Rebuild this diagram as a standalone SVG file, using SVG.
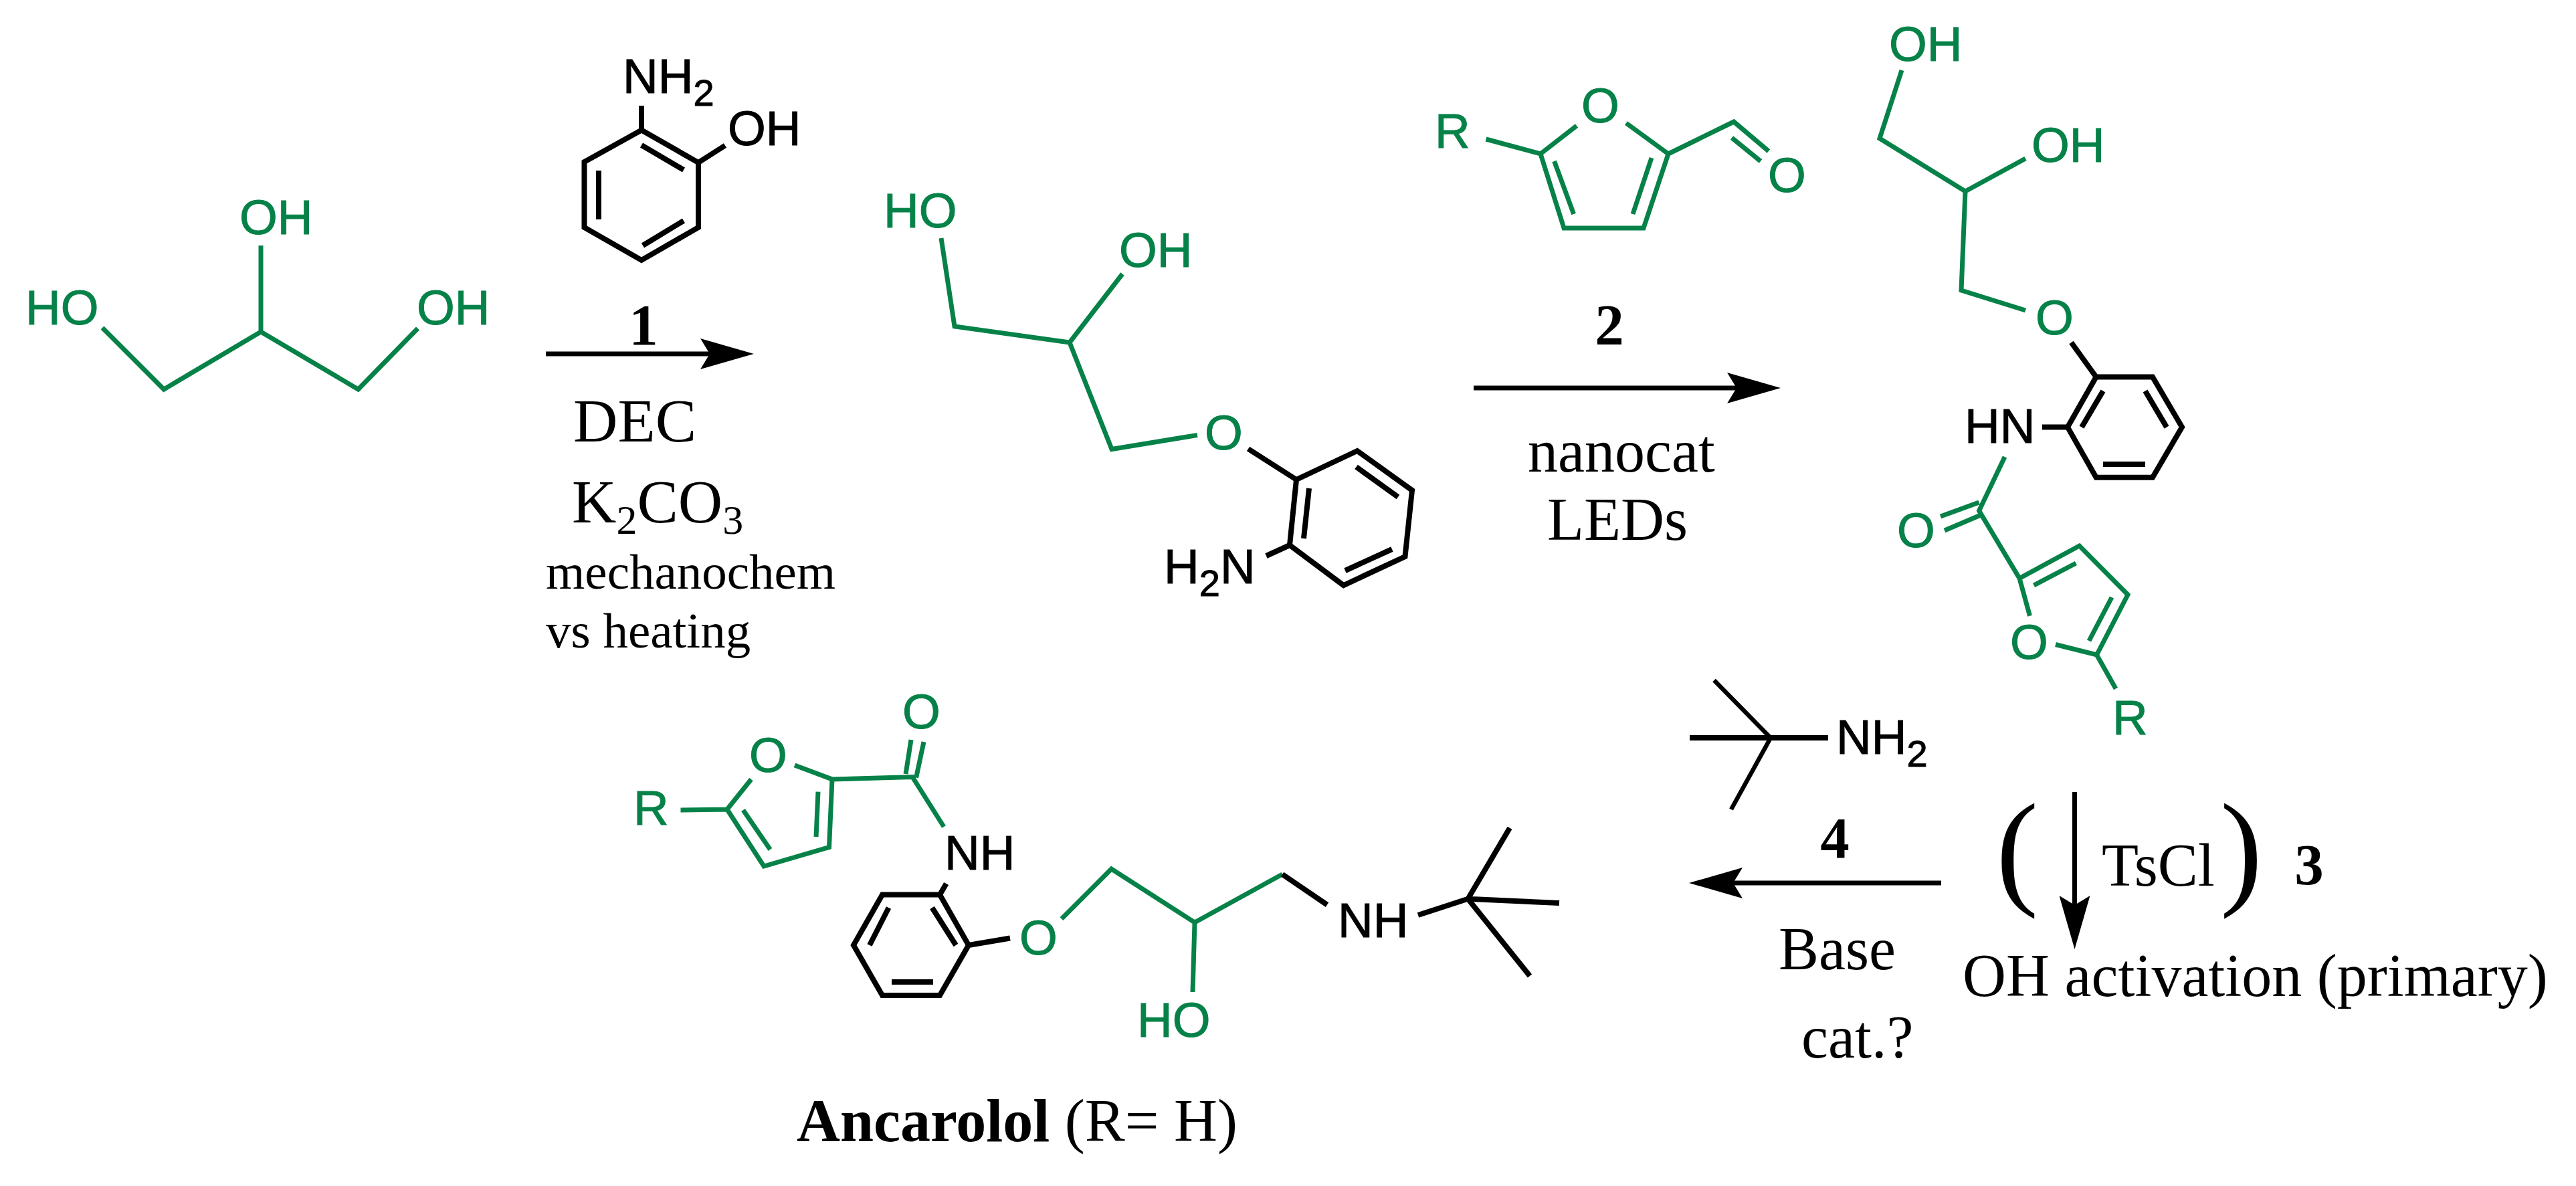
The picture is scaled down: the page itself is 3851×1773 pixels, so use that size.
<svg xmlns="http://www.w3.org/2000/svg" width="3851" height="1773" viewBox="0 0 3851 1773">
<style>
.g{fill:none;stroke:#068249;stroke-width:7;stroke-linejoin:miter}
.k{fill:none;stroke:#000;stroke-width:8;stroke-linejoin:miter}
.a{font-family:"Liberation Sans",Arial,sans-serif;font-size:73px;stroke-width:1}
.lg{fill:#068249;stroke:#068249}
.lk{fill:#000;stroke:#000}
.s{font-size:56px}
.t{font-family:"Liberation Serif","Times New Roman",serif;font-size:90px;fill:#000}
.sm{font-size:75px}
.b{font-weight:bold}
.n{font-weight:bold;font-size:87px;text-anchor:middle}
.p{font-size:190px}
.sub{font-size:62px}
.arr{stroke:#000;stroke-width:7;fill:none;marker-end:url(#head)}
</style>
<defs>
<marker id="head" markerUnits="userSpaceOnUse" viewBox="0 0 80 46" markerWidth="80" markerHeight="46" refX="14" refY="23" orient="auto"><path d="M0 0L80 23L0 46L14 23Z" fill="#000"/></marker>
</defs>
<rect width="3851" height="1773" fill="#fff"/>
<g id="glycerol">
<path class="g" d="M153 490L245 582L390 496L535.500 582L624.500 491M390 496V367"/>
<text class="a lg" x="358" y="350">OH</text>
<text class="a lg" x="38" y="485">HO</text>
<text class="a lg" x="623" y="485">OH</text>
</g>
<g id="aminophenol">
<path class="k" d="M959 194.500L1044 243V340L959 389L873.500 340V242ZM959 217L1022 254M895 255V328M961 367L1022 330M959 195V158M1044 243L1084 217.500"/>
<text class="a lk" x="931" y="139">NH<tspan class="s" dy="19">2</tspan></text>
<text class="a lk" x="1088" y="217">OH</text>
</g>
<g id="intermediate-diol">
<path class="g" d="M1407 356L1427 488L1599 512L1678 409.500M1599 512L1662 671.500L1790 650.500"/>
<path class="k" d="M1866 671L1938 717L2029 674L2111 733L2100.500 832L2008.500 875L1928 815L1938 717M1957 730L1949 805M2027.500 698L2090 743M2011 853L2081 821M1928 815L1893 831"/>
<text class="a lg" x="1321" y="340">HO</text>
<text class="a lg" x="1673" y="399">OH</text>
<text class="a lg" x="1801" y="672">O</text>
<text class="a lk" x="1740" y="872">H<tspan class="s" dy="19">2</tspan><tspan dy="-19">N</tspan></text>
</g>
<g id="furfural">
<path class="g" d="M2221.500 208L2303 230L2357 188M2431 184L2494 230L2457 341H2338L2303 230M2323.600 241L2352.600 320M2469 236L2441 320M2494 230L2592 182L2644 226M2589 206L2632 241"/>
<text class="a lg" x="2145" y="221">R</text>
<text class="a lg" x="2364" y="183">O</text>
<text class="a lg" x="2643" y="287">O</text>
</g>
<g id="amide-diol">
<path class="g" d="M2843 105L2810 207L2938 286L3028 237M2938 286L2932 434L3028 464"/>
<path class="k" d="M3133.600 563.500H3218L3262 638.600L3218 713.700H3133.600L3091 638.600ZM3096.500 512L3133.600 563.500M3144 584.500L3112 638.600M3207 584.500L3239 638.600M3144 694H3207M3091 638.600H3053"/>
<path class="g" d="M2997 683L2958.600 763.500L3019 864.500L3108.600 816L3181 889L3134.500 979L3073 963.500M3019 864.500L3034.500 920.700M2958.600 751L2901 772M2961 770L2907 793M3040.500 875L3103.400 842M3157 893L3123 958M3134.500 979L3163 1029.500"/>
<text class="a lg" x="2824" y="91">OH</text>
<text class="a lg" x="3037" y="242">OH</text>
<text class="a lg" x="3043" y="500">O</text>
<text class="a lk" x="2937" y="662">HN</text>
<text class="a lg" x="2836" y="818">O</text>
<text class="a lg" x="3005" y="985">O</text>
<text class="a lg" x="3158" y="1098">R</text>
</g>
<g id="tert-butylamine">
<path class="k" style="stroke-width:6.500" d="M2562.500 1017L2647 1103L2588 1210"/>
<path class="k" d="M2526 1103H2733"/>
<text class="a lk" x="2745" y="1127">NH<tspan class="s" dy="19">2</tspan></text>
</g>
<g id="ancarolol">
<path class="g" d="M1017.500 1211L1087 1210L1123 1165M1188 1144L1244 1165L1239.500 1266.500L1142 1295L1087 1210M1223 1183.600L1220 1251M1111 1211L1151.400 1270M1244 1165L1364 1161.500L1411 1236M1354 1157L1362 1106M1369.600 1162.600L1381 1109"/>
<path class="k" d="M1414.600 1321L1405 1337.400H1319L1276 1413L1319 1488H1405L1448 1413L1405 1337.400M1393.500 1357L1429 1413M1328.500 1357L1300 1413M1333 1468H1395M1448 1413L1510 1402.500"/>
<path class="g" d="M1587 1373.600L1661.500 1299L1786 1379L1917 1307M1786 1379L1783 1483"/>
<path class="k" d="M1917 1307L1984 1352.600M2120 1368L2194.500 1343.700L2257 1237.700M2194.500 1343.700L2331 1350M2194.500 1343.700L2287 1459"/>
<text class="a lg" x="947" y="1233">R</text>
<text class="a lg" x="1120" y="1154">O</text>
<text class="a lg" x="1349" y="1089">O</text>
<text class="a lk" x="1412" y="1300">NH</text>
<text class="a lg" x="1524" y="1427">O</text>
<text class="a lg" x="1700" y="1550">HO</text>
<text class="a lk" x="2000" y="1401">NH</text>
<text class="t" x="1191" y="1706"><tspan class="b">Ancarolol</tspan> (R= H)</text>
</g>
<g id="connectors">
<path class="arr" d="M816 529H1061"/>
<path class="arr" d="M2203 580H2596"/>
<path class="arr" d="M2902 1320H2591"/>
<path class="arr" d="M3101.500 1184V1353"/>
</g>
<g id="labels">
<text class="t n" x="962" y="515">1</text>
<text class="t" x="857" y="660" style="font-size:92px">DEC</text>
<text class="t" x="855" y="781" style="font-size:92px">K<tspan class="sub" dy="17">2</tspan><tspan dy="-17">CO</tspan><tspan class="sub" dy="17">3</tspan></text>
<text class="t sm" x="816" y="880">mechanochem</text>
<text class="t sm" x="816" y="968">vs heating</text>
<text class="t n" x="2406" y="515">2</text>
<text class="t" x="2284" y="705">nanocat</text>
<text class="t" x="2313" y="807">LEDs</text>
<text class="t n" x="2743" y="1282">4</text>
<text class="t" x="2659" y="1449">Base</text>
<text class="t" x="2693" y="1581">cat.?</text>
<text class="t p" x="2984" y="1333">(</text>
<text class="t p" x="3319" y="1333">)</text>
<text class="t" x="3142" y="1324">TsCl</text>
<text class="t n" x="3452" y="1322">3</text>
<text class="t" x="2934" y="1489">OH activation (primary)</text>
</g>
</svg>
